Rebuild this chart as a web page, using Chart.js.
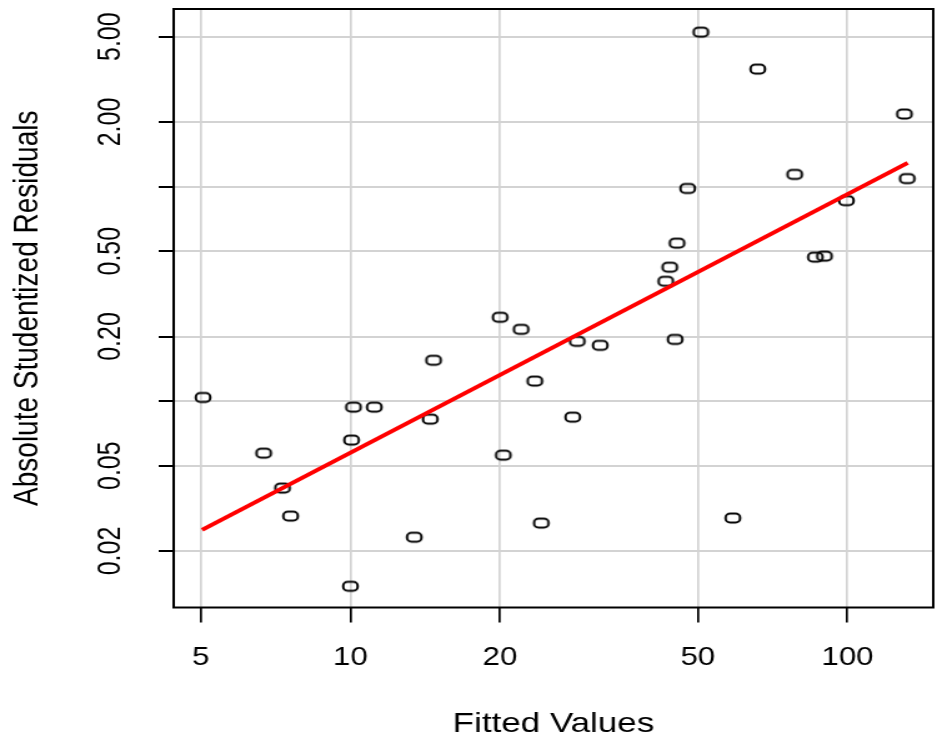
<!DOCTYPE html>
<html>
<head>
<meta charset="utf-8">
<script src="https://cdn.jsdelivr.net/npm/chart.js@4.4.0/dist/chart.umd.min.js"></script>
<style>
html, body { margin: 0; padding: 0; background: #fff; overflow: hidden; }
/* the plot is laid out on a 754px wide board, then widened to the page */
#wrap { width: 754px; height: 750px; transform: scaleX(1.2493); transform-origin: 0 0; }
</style>
</head>
<body>
<div id="wrap"><canvas id="spread"></canvas></div>
<script>
// fitted values and absolute studentized residuals, one entry per case
const fitted = [50.7, 66.0, 130.2, 131.9, 78.3, 47.7, 99.5, 45.4, 43.9, 43.1, 86.2,
                89.9, 20.0, 22.05, 28.6, 31.8, 45.0, 14.7, 23.5, 5.05, 10.14, 11.17,
                14.47, 28.0, 10.05, 6.69, 20.3, 7.30, 7.58, 24.2, 58.8, 13.44, 10.0];
const absResid = [5.25, 3.53, 2.18, 1.09, 1.14, 0.98, 0.86, 0.545, 0.421, 0.362, 0.469,
                  0.474, 0.246, 0.216, 0.190, 0.182, 0.194, 0.155, 0.124, 0.104, 0.0937, 0.0937,
                  0.0824, 0.0842, 0.0658, 0.0572, 0.056, 0.0393, 0.0291, 0.027, 0.0285, 0.0232, 0.0137];

// spread-level fit, straight on log-log axes
const fitLineX = [5.03, 132.2];
const fitLineY = [0.0251, 1.289];

const xTicks = [5, 10, 20, 50, 100];
const yTicks = [0.02, 0.05, 0.1, 0.2, 0.5, 1, 2, 5];
const yTickLabels = ['0.02', '0.05', '', '0.20', '0.50', '', '2.00', '5.00'];

Chart.defaults.font.family = "'Liberation Sans', Arial, sans-serif";
Chart.defaults.color = '#000';

// open symbol used for the residual points
function ringGlyph()
{
    const c = document.createElement('canvas');
    c.width = 17;
    c.height = 14;
    const g = c.getContext('2d');
    g.strokeStyle = '#000';
    g.lineWidth = 2.0;
    g.beginPath();
    g.roundRect(2.75, 2.6, 11.5, 8.8, 3.6);
    g.stroke();
    return c;
}

// box round the plotting region
const frame = {
    id: 'frame',
    afterDatasetsDraw(chart) {
        const {ctx, chartArea: a} = chart;
        ctx.save();
        ctx.strokeStyle = '#000';
        ctx.lineWidth = 2;
        ctx.strokeRect(a.left, a.top, a.right - a.left, a.bottom - a.top);
        ctx.restore();
    }
};

const points = fitted.map((x, i) => ({x: x, y: absResid[i]}));
const fitLine = fitLineX.map((x, i) => ({x: x, y: fitLineY[i]}));

const ctx_spread = document.getElementById('spread').getContext('2d');
const spread = new Chart(ctx_spread,
    {
        type: 'scatter',
        data: {
            datasets: [
                {
                    label: 'fit',
                    data: fitLine,
                    showLine: true,
                    borderColor: '#ff0000',
                    borderWidth: 3.8,
                    pointRadius: 0,
                    order: 0
                },
                {
                    label: 'residuals',
                    data: points,
                    pointStyle: ringGlyph(),
                    pointRadius: 6,
                    order: 1
                }
            ]
        },
        options: {
            responsive: true,
            maintainAspectRatio: false,
            animation: false,
            events: [],
            layout: {padding: {top: 9, right: 4, left: 0, bottom: 0}},
            plugins: {legend: {display: false}, tooltip: {enabled: false}},
            scales: {
                x: {
                    type: 'logarithmic',
                    min: 4.409,
                    max: 148.8,
                    afterBuildTicks: s => { s.ticks = xTicks.map(v => ({value: v})); },
                    afterFit: s => { s.height = 142.5; s.paddingLeft = 0; s.paddingRight = 0; },
                    border: {display: false},
                    grid: {color: '#d3d3d3', lineWidth: 1.7, tickColor: '#000', tickWidth: 1.7, tickLength: 15},
                    ticks: {autoSkip: false, maxRotation: 0, padding: 21, font: {size: 25},
                            callback: v => String(v)},
                    title: {display: true, text: 'Fitted Values', font: {size: 28},
                            padding: {top: 0, bottom: 9}}
                },
                y: {
                    type: 'logarithmic',
                    min: 0.01091,
                    max: 6.73,
                    afterBuildTicks: s => { s.ticks = yTicks.map(v => ({value: v})); },
                    afterFit: s => { s.width = 139; s.paddingTop = 0; s.paddingBottom = 0; },
                    border: {display: false},
                    grid: {color: '#d3d3d3', lineWidth: 2, tickColor: '#000', tickWidth: 2, tickLength: 12},
                    ticks: {autoSkip: false, minRotation: 90, maxRotation: 90, crossAlign: 'center',
                            padding: 14, font: {size: 25},
                            callback: v => { const i = yTicks.indexOf(v); return i < 0 ? '' : yTickLabels[i]; }},
                    title: {display: true, text: 'Absolute Studentized Residuals', font: {size: 28},
                            padding: {top: 5, bottom: 0}}
                }
            }
        },
        plugins: [frame]
    });
</script>
</body>
</html>
